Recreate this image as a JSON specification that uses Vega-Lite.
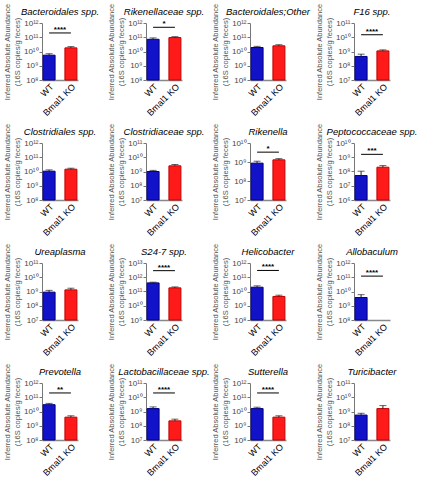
{
  "$schema": "https://vega.github.io/schema/vega-lite/v6.json",
  "padding": {"left": 3, "top": 2, "right": 0, "bottom": 0},
  "background": "white",
  "data": {"values": [
    {"taxon": "Bacteroidales spp.", "group": "WT", "mean": 5.5e9, "err": 7e9, "lo": 1e8, "hi": 1e12, "sig": "****", "sigy": 2e11},
    {"taxon": "Bacteroidales spp.", "group": "Bmal1 KO", "mean": 1.8e10, "err": 2.2e10, "lo": 1e8, "hi": 1e12, "sig": "****", "sigy": 2e11},
    {"taxon": "Rikenellaceae spp.", "group": "WT", "mean": 7.2e10, "err": 9e10, "lo": 1e8, "hi": 1e12, "sig": "*", "sigy": 5e11},
    {"taxon": "Rikenellaceae spp.", "group": "Bmal1 KO", "mean": 9.5e10, "err": 1.1e11, "lo": 1e8, "hi": 1e12, "sig": "*", "sigy": 5e11},
    {"taxon": "Bacteroidales;Other", "group": "WT", "mean": 1.9e10, "err": 2.3e10, "lo": 1e8, "hi": 1e12, "sig": null, "sigy": null},
    {"taxon": "Bacteroidales;Other", "group": "Bmal1 KO", "mean": 2.5e10, "err": 3e10, "lo": 1e8, "hi": 1e12, "sig": null, "sigy": null},
    {"taxon": "F16 spp.", "group": "WT", "mean": 4.5e8, "err": 6.5e8, "lo": 1e7, "hi": 1e11, "sig": "****", "sigy": 1.5e10},
    {"taxon": "F16 spp.", "group": "Bmal1 KO", "mean": 1.1e9, "err": 1.3e9, "lo": 1e7, "hi": 1e11, "sig": "****", "sigy": 1.5e10},
    {"taxon": "Clostridiales spp.", "group": "WT", "mean": 1.05e10, "err": 1.3e10, "lo": 1e8, "hi": 1e12, "sig": null, "sigy": null},
    {"taxon": "Clostridiales spp.", "group": "Bmal1 KO", "mean": 1.45e10, "err": 1.7e10, "lo": 1e8, "hi": 1e12, "sig": null, "sigy": null},
    {"taxon": "Clostridiaceae spp.", "group": "WT", "mean": 1e9, "err": 1.2e9, "lo": 1e7, "hi": 1e11, "sig": null, "sigy": null},
    {"taxon": "Clostridiaceae spp.", "group": "Bmal1 KO", "mean": 2.5e9, "err": 3.1e9, "lo": 1e7, "hi": 1e11, "sig": null, "sigy": null},
    {"taxon": "Rikenella", "group": "WT", "mean": 8.7e8, "err": 1.1e9, "lo": 1e7, "hi": 1e10, "sig": "*", "sigy": 3.3e9},
    {"taxon": "Rikenella", "group": "Bmal1 KO", "mean": 1.3e9, "err": 1.5e9, "lo": 1e7, "hi": 1e10, "sig": "*", "sigy": 3.3e9},
    {"taxon": "Peptococcaceae spp.", "group": "WT", "mean": 5.2e7, "err": 1.05e8, "lo": 1e6, "hi": 1e10, "sig": "***", "sigy": 1.6e9},
    {"taxon": "Peptococcaceae spp.", "group": "Bmal1 KO", "mean": 2e8, "err": 2.6e8, "lo": 1e6, "hi": 1e10, "sig": "***", "sigy": 1.6e9},
    {"taxon": "Ureaplasma", "group": "WT", "mean": 9e8, "err": 1.2e9, "lo": 1e7, "hi": 1e11, "sig": null, "sigy": null},
    {"taxon": "Ureaplasma", "group": "Bmal1 KO", "mean": 1.3e9, "err": 1.7e9, "lo": 1e7, "hi": 1e11, "sig": null, "sigy": null},
    {"taxon": "S24-7 spp.", "group": "WT", "mean": 4e11, "err": 4.5e11, "lo": 1e9, "hi": 1e13, "sig": "****", "sigy": 2.9e12},
    {"taxon": "S24-7 spp.", "group": "Bmal1 KO", "mean": 1.8e11, "err": 2.1e11, "lo": 1e9, "hi": 1e13, "sig": "****", "sigy": 2.9e12},
    {"taxon": "Helicobacter", "group": "WT", "mean": 2e10, "err": 2.5e10, "lo": 1e8, "hi": 1e12, "sig": "****", "sigy": 3e11},
    {"taxon": "Helicobacter", "group": "Bmal1 KO", "mean": 4.5e9, "err": 5.5e9, "lo": 1e8, "hi": 1e12, "sig": "****", "sigy": 3e11},
    {"taxon": "Allobaculum", "group": "WT", "mean": 3.8e9, "err": 6e9, "lo": 1e8, "hi": 1e12, "sig": "****", "sigy": 1.2e11},
    {"taxon": "Allobaculum", "group": "Bmal1 KO", "mean": null, "err": null, "lo": 1e8, "hi": 1e12, "sig": "****", "sigy": 1.2e11},
    {"taxon": "Prevotella", "group": "WT", "mean": 3e10, "err": 3.7e10, "lo": 1e8, "hi": 1e12, "sig": "**", "sigy": 2e11},
    {"taxon": "Prevotella", "group": "Bmal1 KO", "mean": 4e9, "err": 5e9, "lo": 1e8, "hi": 1e12, "sig": "**", "sigy": 2e11},
    {"taxon": "Lactobacillaceae spp.", "group": "WT", "mean": 1.6e9, "err": 2.1e9, "lo": 1e7, "hi": 1e11, "sig": "****", "sigy": 2e10},
    {"taxon": "Lactobacillaceae spp.", "group": "Bmal1 KO", "mean": 2.2e8, "err": 2.9e8, "lo": 1e7, "hi": 1e11, "sig": "****", "sigy": 2e10},
    {"taxon": "Sutterella", "group": "WT", "mean": 1.6e10, "err": 2e10, "lo": 1e8, "hi": 1e12, "sig": "****", "sigy": 2e11},
    {"taxon": "Sutterella", "group": "Bmal1 KO", "mean": 4e9, "err": 5e9, "lo": 1e8, "hi": 1e12, "sig": "****", "sigy": 2e11},
    {"taxon": "Turicibacter", "group": "WT", "mean": 5.6e8, "err": 7.5e8, "lo": 1e7, "hi": 1e11, "sig": null, "sigy": null},
    {"taxon": "Turicibacter", "group": "Bmal1 KO", "mean": 1.6e9, "err": 2.6e9, "lo": 1e7, "hi": 1e11, "sig": null, "sigy": null}
  ]},
  "facet": {
    "field": "taxon", "type": "nominal",
    "sort": ["Bacteroidales spp.", "Rikenellaceae spp.", "Bacteroidales;Other", "F16 spp.", "Clostridiales spp.", "Clostridiaceae spp.", "Rikenella", "Peptococcaceae spp.", "Ureaplasma", "S24-7 spp.", "Helicobacter", "Allobaculum", "Prevotella", "Lactobacillaceae spp.", "Sutterella", "Turicibacter"],
    "header": {"title": null, "labelFont": "Liberation Sans", "labelFontSize": 9.5, "labelFontStyle": "italic", "labelColor": "black", "labelPadding": -14}
  },
  "columns": 4,
  "bounds": "flush",
  "spacing": {"column": 68, "row": 63},
  "resolve": {"scale": {"y": "independent"}, "axis": {"x": "independent"}},
  "spec": {
    "width": 36,
    "height": 57,
    "encoding": {
      "x": {"field": "group", "type": "nominal", "sort": ["WT", "Bmal1 KO"],
        "scale": {"domain": ["WT", "Bmal1 KO"], "paddingInner": 0.45, "paddingOuter": 0.05},
        "axis": {"title": null, "labelAngle": -45, "labelFont": "Liberation Sans", "labelFontSize": 9, "labelColor": "black", "ticks": false, "labelPadding": 2, "domainColor": "#888", "domainWidth": 1.5}}
    },
    "layer": [
      {"mark": {"type": "point", "opacity": 0},
       "encoding": {"y": {"field": "hi", "type": "quantitative"}}},
      {"mark": {"type": "bar", "strokeWidth": 1},
       "encoding": {
         "y": {"field": "mean", "type": "quantitative",
           "scale": {"type": "log"},
           "axis": {"title": ["Inferred Absolute Abundance", "(16S copies/g feces)"], "titleFont": "Liberation Sans", "titleFontSize": 7.5, "titleFontWeight": "normal", "titleColor": "#555", "titlePadding": 2,
             "labelFont": "Liberation Sans", "labelFontSize": 8, "labelColor": "#444", "labelPadding": 1, "tickCount": 3, "tickSize": 3, "tickColor": "#777", "domainColor": "#777", "grid": false,
             "labelExpr": "'10' + ['⁰','¹','²','³','⁴','⁵','⁶','⁷','⁸','⁹','¹⁰','¹¹','¹²','¹³','¹⁴'][round(log(datum.value)/LN10)]"}},
         "y2": {"field": "lo"},
         "color": {"field": "group", "type": "nominal", "legend": null, "scale": {"domain": ["WT", "Bmal1 KO"], "range": ["#1212c8", "#ff1a1a"]}},
         "stroke": {"field": "group", "type": "nominal", "legend": null, "scale": {"domain": ["WT", "Bmal1 KO"], "range": ["#000080", "#c00000"]}}
       }},
      {"mark": {"type": "rule", "color": "#222", "strokeWidth": 1},
       "encoding": {"y": {"field": "mean", "type": "quantitative"}, "y2": {"field": "err"}}},
      {"mark": {"type": "tick", "color": "#222", "thickness": 1, "size": 7},
       "encoding": {"y": {"field": "err", "type": "quantitative"}}},
      {"transform": [{"filter": "datum.sig != null && datum.group == 'WT'"}],
       "mark": {"type": "rule", "color": "black", "strokeWidth": 1},
       "encoding": {"x": {"datum": "WT"}, "x2": {"datum": "Bmal1 KO"}, "y": {"field": "sigy", "type": "quantitative"}}},
      {"transform": [{"filter": "datum.sig != null && datum.group == 'WT'"}],
       "mark": {"type": "text", "font": "Liberation Sans", "fontSize": 8, "fontWeight": "bold", "baseline": "bottom", "dy": 1, "color": "black"},
       "encoding": {"x": {"value": 18}, "y": {"field": "sigy", "type": "quantitative"}, "text": {"field": "sig"}}}
    ]
  },
  "config": {"view": {"stroke": null}}
}
